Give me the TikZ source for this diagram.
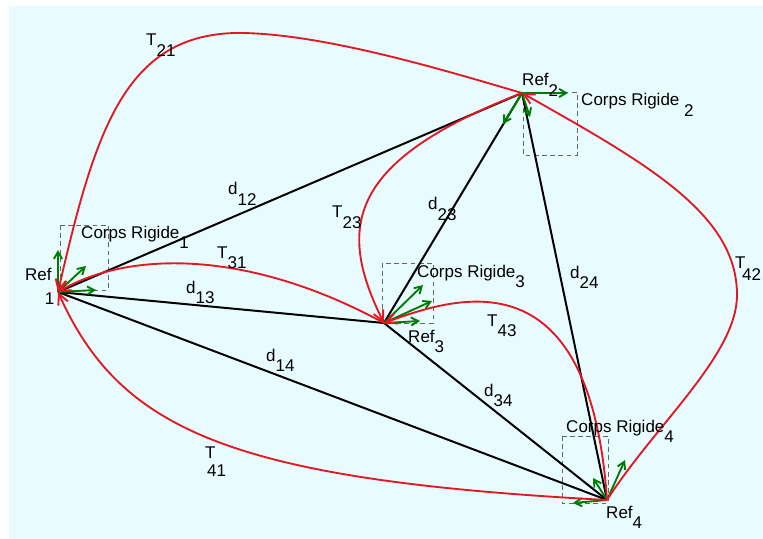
\documentclass[tikz,border=0pt]{standalone}
\usepackage{fontspec}
\setmainfont{Liberation Sans}
\usepackage{xcolor}
\usetikzlibrary{arrows.meta}
\definecolor{fond}{RGB}{232,252,255}
\definecolor{rouge}{RGB}{225,25,35}
\definecolor{vert}{RGB}{0,125,0}
\newcommand{\ind}[2]{#1\raisebox{-0.6em}{#2}}

\begin{document}
\begin{tikzpicture}[
    x=0.03cm, y=-0.03cm,
    lien/.style={black, line width=1.7pt},
    trans/.style={rouge, line width=1.6pt, -{Straight Barb[length=9pt, width=9pt]}},
    axe/.style={vert, line width=1.6pt, -{Straight Barb[length=6pt, width=7pt]}},
    boite/.style={draw=black!60, dash pattern=on 4pt off 3pt, line width=0.6pt},
    lbl/.style={inner sep=0pt, anchor=base west, font=\fontsize{14.5}{17}\selectfont}
]
    \useasboundingbox (0,0) rectangle (763,539);
    \fill[fond] (9,6) rectangle (763,539);

    % reperes des corps
    \coordinate (r1) at (58,292);
    \coordinate (r2) at (522,93);
    \coordinate (r3) at (384,323);
    \coordinate (r4) at (607,500);

    % boites des corps rigides
    \draw[boite] (60,225) rectangle (108,290);
    \draw[boite] (523,92) rectangle (577,155);
    \draw[boite] (382,263) rectangle (433,323);
    \draw[boite] (562,436) rectangle (608,503);

    % distances
    \draw[lien] (r1) -- (r2);
    \draw[lien] (r1) -- (r3);
    \draw[lien] (r1) -- (r4);
    \draw[lien] (r3) -- (r2);
    \draw[lien] (r2) -- (r4);
    \draw[lien] (r3) -- (r4);

    % axes
    \draw[axe] (r1) -- (58,250);
    \draw[axe] (r1) -- (86,266);
    \draw[axe] (r1) -- (96,290);
    \draw[axe] (r2) -- (568,93);
    \draw[axe] (r2) -- (530,117);
    \draw[axe] (r2) -- (503,124);
    \draw[axe] (r3) -- (423,285);
    \draw[axe] (r3) -- (432,301);
    \draw[axe] (r3) -- (420,321);
    \draw[axe] (r4) -- (625,460);
    \draw[axe] (r4) -- (593,478);
    \draw[axe] (r4) -- (573,503);

    % transformations
    \draw[trans] (r2) .. controls (450,72) and (320,32) .. (235,33)
        .. controls (125,36) and (95,130) .. (r1);
    \draw[trans] (r3) .. controls (250,250) and (130,250) .. (r1);
    \draw[trans] (r4) .. controls (230,480) and (120,430) .. (r1);
    \draw[trans] (r2) .. controls (350,160) and (335,225) .. (r3);
    \draw[trans] (r4) .. controls (590,255) and (460,295) .. (r3);
    \draw[trans] (r4) .. controls (655,425) and (737,355) .. (737,295)
        .. controls (737,215) and (650,165) .. (r2);

    % textes
    \node[lbl] (t21) at (146,46) {\ind{T}{21}};
    \node[lbl] (nref2) at (522,86) {\ind{Ref}{2}};
    \node[lbl] (cr2) at (581,106) {Corps Rigide\ \raisebox{-0.6em}{2}};
    \node[lbl] (d12) at (228,195) {\ind{d}{12}};
    \node[lbl] (t23) at (332,218) {\ind{T}{23}};
    \node[lbl] (d23) at (428,210) {\ind{d}{23}};
    \node[lbl] (cr3) at (417,277) {\ind{Corps Rigide}{3}};
    \node[lbl] (t31) at (217,258) {\ind{T}{31}};
    \node[lbl] (d13) at (186,293) {\ind{d}{13}};
    \node[lbl] (nref1) at (25,280) {Ref\kern-0.4em\raisebox{-1.45em}{1}};
    \node[lbl] (cr1) at (81,238) {\ind{Corps Rigide}{1}};
    \node[lbl] (nref3) at (408,342) {\ind{Ref}{3}};
    \node[lbl] (t43) at (487,326) {\ind{T}{43}};
    \node[lbl] (d24) at (570,278) {\ind{d}{24}};
    \node[lbl] (t42) at (735,268) {T\kern-0.2em\raisebox{-0.75em}{42}};
    \node[lbl] (d14) at (266,361) {\ind{d}{14}};
    \node[lbl] (d34) at (484,396) {\ind{d}{34}};
    \node[lbl] (t41) at (205,458) {T\kern-0.5em\raisebox{-1.1em}{41}};
    \node[lbl] (cr4) at (566,432) {\ind{Corps Rigide}{4}};
    \node[lbl] (nref4) at (606,518) {\ind{Ref}{4}};
\end{tikzpicture}
\end{document}
